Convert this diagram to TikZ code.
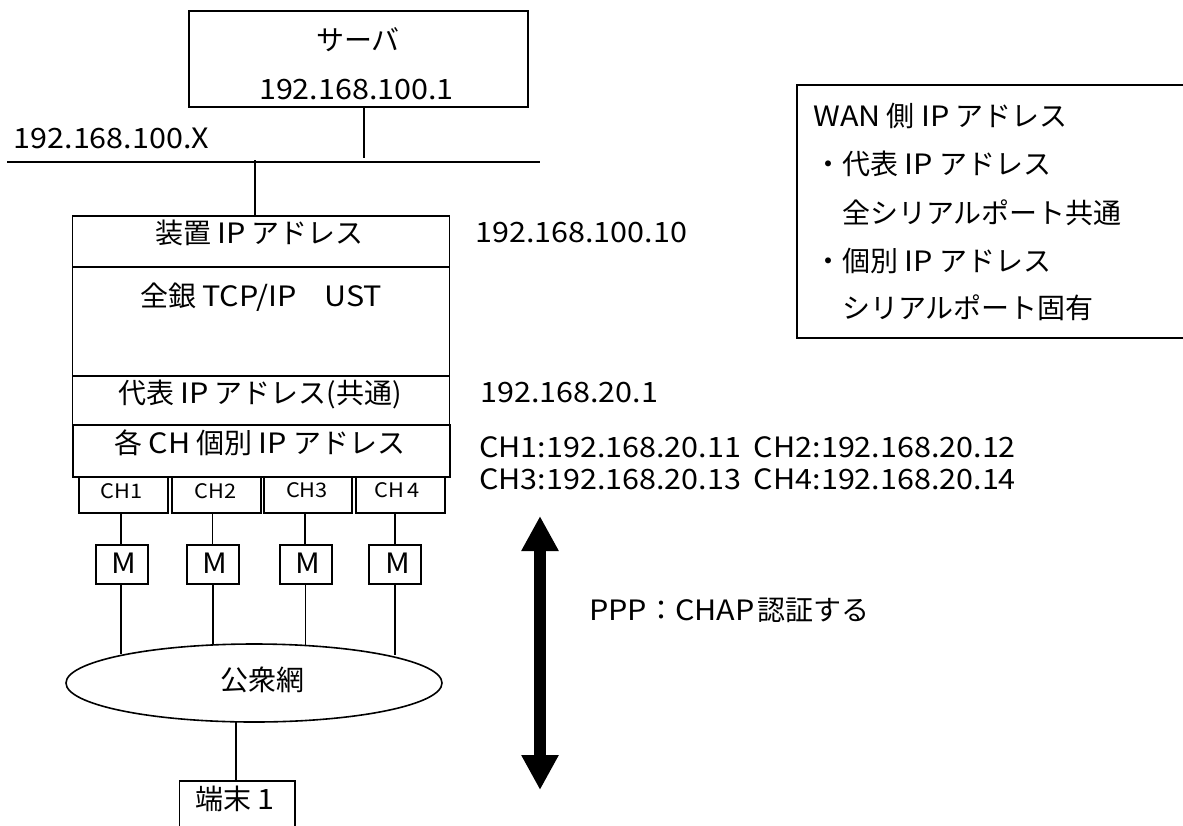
\documentclass[tikz,border=0pt]{standalone}
\usepackage{fontspec}
\setmainfont{Noto Sans CJK JP}
\newfontfamily\latn[FakeStretch=1.09]{Noto Sans CJK JP}
\newcommand{\La}[1]{{\latn #1}}
\usetikzlibrary{arrows.meta,shapes.geometric}
\tikzset{
  box/.style={draw,line width=1.6pt,inner sep=0pt},
  link/.style={draw,line width=1.4pt},
  lab/.style={inner sep=0pt,anchor=base west,font=\fontsize{28}{32}\selectfont},
  ctr/.style={inner sep=0pt,anchor=base,font=\fontsize{28}{32}\selectfont},
  small/.style={inner sep=0pt,anchor=base,font=\fontsize{20}{24}\selectfont},
}
\newcommand{\rectnode}[6][]{\node[box,#1,minimum width=#4pt-#2pt,minimum height=#5pt-#3pt,anchor=north west] (#6) at (#2,#3) {};}
\begin{document}
\begin{tikzpicture}[x=1pt,y=-1pt]
\path[use as bounding box,clip] (0,0) rectangle (1183,825);
\rectnode{188}{10}{527}{106}{server}
\rectnode{71.5}{215}{448.5}{266}{dev}
\rectnode{71.5}{266}{448.5}{375}{ust}
\rectnode{71.5}{375}{448.5}{424}{rep}
\rectnode[line width=2.2pt]{72}{424}{449}{476}{each}
\rectnode{78}{476}{167}{512}{cha}
\rectnode{171}{476}{260}{512}{chb}
\rectnode{263}{476}{351}{512}{chc}
\rectnode{355}{476}{444}{512}{chd}
\rectnode{95}{544}{147}{583}{ma}
\rectnode{186}{544}{238}{583}{mb}
\rectnode{279}{544}{331}{583}{mc}
\rectnode{368}{544}{420}{583}{md}
\rectnode{796}{84}{1200}{337}{wan}
\rectnode{178.5}{780}{294}{860}{term}
\node[draw,line width=1.6pt,ellipse,minimum width=376pt,minimum height=78pt,inner sep=0pt] (pub) at (254,683) {};
\coordinate (la) at (7,162); \coordinate (lb) at (540,162);
\draw[link] (la) -- (lb);
\coordinate (busa) at (364,158);
\coordinate (busb) at (255,160);
\draw[link] (server.south -| busa) -- (busa);
\draw[link] (busb) -- (dev.north -| busb);
\draw[link] (cha.south -| 121,0) -- (ma.north -| 121,0);
\draw[link] (chb.south -| 212.5,0) -- (mb.north -| 212.5,0);
\draw[link] (chc.south -| 305,0) -- (mc.north -| 305,0);
\draw[link] (chd.south -| 395,0) -- (md.north -| 395,0);
\coordinate (ea) at (121,654); \coordinate (eb) at (213,644); \coordinate (ec) at (305.5,645); \coordinate (ed) at (395,655);
\draw[link] (ma.south -| ea) -- (ea);
\draw[link] (mb.south -| eb) -- (eb);
\draw[link] (mc.south -| ec) -- (ec);
\draw[link] (md.south -| ed) -- (ed);
\coordinate (t) at (236,722);
\draw[link] (t) -- (term.north -| t);
\coordinate (au) at (540,516); \coordinate (ad) at (540,790);
\draw[line width=12.5pt,{Triangle[length=35pt,width=35pt]}-{Triangle[length=35pt,width=35pt]}] (au) -- (ad);
\node[ctr] (t1) at (358,50) {サーバ};
\node[ctr] (t2) at (356.5,99) {\La{192.168.100.1}};
\node[lab] (t3) at (13.5,148) {\La{192.168.100.X}};
\node[ctr] (t4) at (259.5,243) {装置 \La{IP} アドレス};
\node[ctr] (t5) at (261,306) {全銀 \La{TCP/IP}\quad\La{UST}};
\node[ctr] (t6) at (260,403) {代表 \La{IP} アドレス(共通)};
\node[ctr] (t7) at (260,453) {各 \La{CH} 個別 \La{IP} アドレス};
\node[small] (c1) at (121.5,498) {\La{CH1}};
\node[small] (c2) at (215.5,498) {\La{CH2}};
\node[small] (c3) at (307,497) {\La{CH3}};
\node[small] (c4) at (397.5,497) {\La{CH\,4}};
\node[ctr] (m1) at (124,573) {\La{M}};
\node[ctr] (m2) at (215,573) {\La{M}};
\node[ctr] (m3) at (308,573) {\La{M}};
\node[ctr] (m4) at (398,573) {\La{M}};
\node[ctr] (t8) at (262,690) {公衆網};
\node[ctr] (t9) at (235,809) {端末 \La{1}};
\node[lab] (r1) at (475,242) {\La{192.168.100.10}};
\node[lab] (r2) at (480,402) {\La{192.168.20.1}};
\node[lab] (r3) at (479,457) {\La{CH1:192.168.20.11\hspace{6pt} CH2:192.168.20.12}};
\node[lab] (r4) at (479,489.5) {\La{CH3:192.168.20.13\hspace{6pt} CH4:192.168.20.14}};
\node[lab] (r5) at (589,620) {\La{PPP}：\La{CHAP}\hspace{3pt}認証する};
\node[lab] (w1) at (813,126) {\La{WAN} 側 \La{IP} アドレス};
\node[lab] (w2) at (814,174) {・代表 \La{IP} アドレス};
\node[lab] (w3) at (842,223) {全シリアルポート共通};
\node[lab] (w4) at (814,271) {・個別 \La{IP} アドレス};
\node[lab] (w5) at (842,318) {シリアルポート固有};
\end{tikzpicture}
\end{document}
